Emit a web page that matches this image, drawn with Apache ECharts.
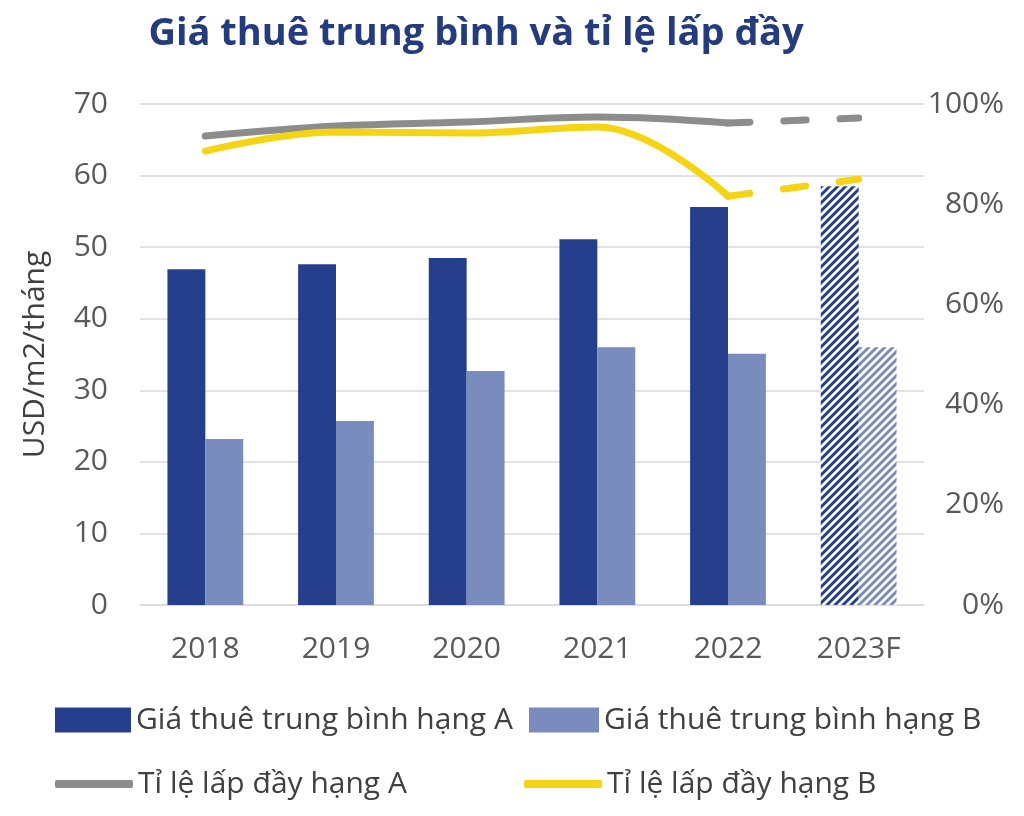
<!DOCTYPE html>
<html>
<head>
<meta charset="utf-8">
<script src="https://cdn.jsdelivr.net/npm/echarts@6/dist/echarts.min.js"></script>
<style>html,body{margin:0;padding:0;background:#fff;}#c{width:1024px;height:816px;}</style>
</head>
<body>
<div id="c"></div>
<script>
var categories = ['2018', '2019', '2020', '2021', '2022', '2023F'];
var rentA = [46.9, 47.6, 48.5, 51.1, 55.6, 58.5];
var rentB = [23.2, 25.7, 32.7, 36.0, 35.1, 36.0];
var occA = [0.936, 0.956, 0.964, 0.974, 0.962, 0.972];
var occB = [0.906, 0.944, 0.942, 0.954, 0.816, 0.850];
var forecastIndex = 5;
var leftTicks = {min: 0, max: 70, interval: 10};
var rightTicks = {min: 0, max: 1, interval: 0.2};

var colA = '#263f8c', colB = '#7a8cbe', colGray = '#8c8c8c', colYellow = '#f5d414';
var FONT = '"Open Sans", "Noto Sans", sans-serif';

function hatch(color) {
  var s = 8;
  var c = document.createElement('canvas');
  c.width = s; c.height = s;
  var ctx = c.getContext('2d');
  ctx.fillStyle = '#ffffff';
  ctx.fillRect(0, 0, s, s);
  ctx.strokeStyle = color;
  ctx.lineWidth = 3;
  ctx.beginPath();
  ctx.moveTo(-1, s + 1); ctx.lineTo(s + 1, -1);
  ctx.moveTo(-s / 2 - 1, s / 2 + 1); ctx.lineTo(s / 2 + 1, -s / 2 - 1);
  ctx.moveTo(s / 2 - 1, 3 * s / 2 + 1); ctx.lineTo(3 * s / 2 + 1, s / 2 - 1);
  ctx.stroke();
  return {image: c, repeat: 'repeat'};
}

function barData(arr, color) {
  return arr.map(function (v, i) {
    if (i === forecastIndex) return {value: v, itemStyle: {color: hatch(color)}};
    return v;
  });
}
function solidPart(arr) {
  return arr.map(function (v, i) { return i < forecastIndex ? v : '-'; });
}
function dashPart(arr) {
  return arr.map(function (v, i) { return i >= forecastIndex - 1 ? v : '-'; });
}

var chart = echarts.init(document.getElementById('c'));
var legendText = {fontSize: 30, color: '#404040', fontFamily: FONT, padding: [0, 0, 0, 0]};
var names = ['Giá thuê trung bình hạng A', 'Giá thuê trung bình hạng B', 'Tỉ lệ lấp đầy hạng A', 'Tỉ lệ lấp đầy hạng B'];

chart.setOption({
  animation: false,
  backgroundColor: '#ffffff',
  title: {
    text: 'Giá thuê trung bình và tỉ lệ lấp đầy',
    left: 471, top: 10, textAlign: 'center',
    textStyle: {fontSize: 38, fontWeight: 'bold', color: '#243b7e', fontFamily: FONT}
  },
  legend: [
    {data: [names[0]], left: 55, top: 705, itemWidth: 76, itemHeight: 25, itemGap: 0, textStyle: legendText, icon: 'rect', padding: 0},
    {data: [names[1]], left: 529, top: 705, itemWidth: 70, itemHeight: 25, itemGap: 0, textStyle: legendText, icon: 'rect', padding: 0},
    {data: [names[2]], left: 55, top: 769, itemWidth: 78, itemHeight: 8, itemGap: 0, textStyle: legendText, icon: 'roundRect', padding: 0},
    {data: [names[3]], left: 524, top: 769, itemWidth: 78, itemHeight: 8, itemGap: 0, textStyle: legendText, icon: 'roundRect', padding: 0}
  ],
  grid: {left: 140, right: 100, top: 104, bottom: 211, containLabel: false},
  xAxis: {
    type: 'category', data: categories,
    axisLine: {show: true, lineStyle: {color: '#d9d9d9', width: 1.5}},
    axisTick: {show: false},
    axisLabel: {fontSize: 30, color: '#595959', fontFamily: FONT, margin: 29}
  },
  yAxis: [
    {
      type: 'value', min: leftTicks.min, max: leftTicks.max, interval: leftTicks.interval,
      name: 'USD/m2/tháng', nameLocation: 'middle', nameGap: 90, nameRotate: 90,
      nameTextStyle: {fontSize: 30, color: '#404040', fontFamily: FONT},
      axisLine: {show: false}, axisTick: {show: false},
      axisLabel: {fontSize: 30, color: '#595959', fontFamily: FONT, margin: 32},
      splitLine: {show: true, lineStyle: {color: '#d9d9d9', width: 1.5}}
    },
    {
      type: 'value', position: 'right', min: rightTicks.min, max: rightTicks.max, interval: rightTicks.interval,
      axisLine: {show: false}, axisTick: {show: false},
      axisLabel: {fontSize: 30, color: '#595959', fontFamily: FONT, margin: 80, align: 'right',
        formatter: function (v) { return Math.round(v * 100) + '%'; }},
      splitLine: {show: false}
    }
  ],
  series: [
    {name: names[0], type: 'bar', data: barData(rentA, colA), itemStyle: {color: colA}, barGap: '0%', barCategoryGap: '42%'},
    {name: names[1], type: 'bar', data: barData(rentB, colB), itemStyle: {color: colB}},
    {name: names[2], type: 'line', yAxisIndex: 1, data: solidPart(occA), smooth: 0.4, showSymbol: false, symbol: 'none',
      lineStyle: {color: colGray, width: 7, cap: 'round'}, itemStyle: {color: colGray}, z: 5},
    {name: names[2], type: 'line', yAxisIndex: 1, data: dashPart(occA), smooth: 0.4, showSymbol: false, symbol: 'none',
      lineStyle: {color: colGray, width: 7, type: [22, 34], cap: 'round'}, itemStyle: {color: colGray}, z: 5},
    {name: names[3], type: 'line', yAxisIndex: 1, data: solidPart(occB), smooth: 0.4, showSymbol: false, symbol: 'none',
      lineStyle: {color: colYellow, width: 7, cap: 'round'}, itemStyle: {color: colYellow}, z: 6},
    {name: names[3], type: 'line', yAxisIndex: 1, data: dashPart(occB), smooth: 0.4, showSymbol: false, symbol: 'none',
      lineStyle: {color: colYellow, width: 7, type: [22, 34], cap: 'round'}, itemStyle: {color: colYellow}, z: 6}
  ]
});
</script>
</body>
</html>
